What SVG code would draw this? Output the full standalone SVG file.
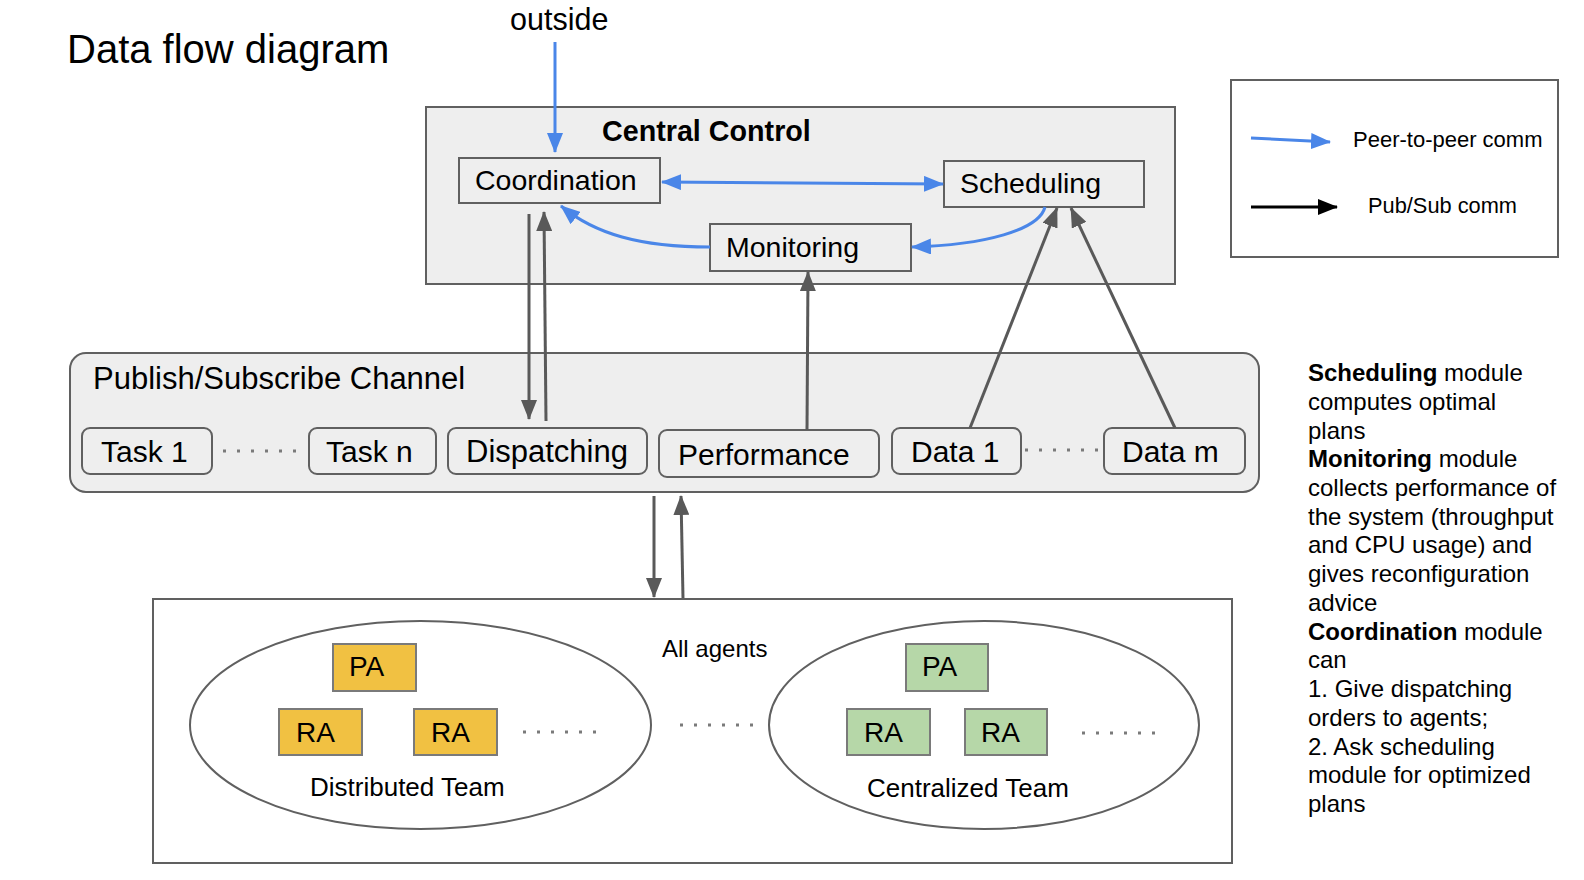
<svg xmlns="http://www.w3.org/2000/svg" width="1584" height="880" viewBox="0 0 1584 880">
<style>
text{font-family:"Liberation Sans",Arial,sans-serif;fill:#000}
.box{fill:#eeeeee;stroke:#606060;stroke-width:2}
.wbox{fill:#ffffff;stroke:#606060;stroke-width:2}
.lbl{font-size:28.5px}
.ps{font-size:30px}
.ag{font-size:28px}
.org{fill:#f1c142;stroke:#7a7a7a;stroke-width:2}
.grn{fill:#b6d7a8;stroke:#7a7a7a;stroke-width:2}
.blue{fill:none;stroke:#4a86e8;stroke-width:3}
.gray{fill:none;stroke:#595959;stroke-width:3}
.dots{fill:none;stroke:#7a7a7a;stroke-width:3;stroke-dasharray:3 11}
.side{font-size:24px}
</style>
<defs>
<marker id="ab" markerUnits="userSpaceOnUse" markerWidth="20" markerHeight="16" refX="19" refY="8" orient="auto-start-reverse"><path d="M0,0 L20,8 L0,16 z" fill="#4a86e8"/></marker>
<marker id="ag" markerUnits="userSpaceOnUse" markerWidth="20" markerHeight="16" refX="19" refY="8" orient="auto"><path d="M0,0 L20,8 L0,16 z" fill="#595959"/></marker>
<marker id="ak" markerUnits="userSpaceOnUse" markerWidth="20" markerHeight="16" refX="19" refY="8" orient="auto"><path d="M0,0 L20,8 L0,16 z" fill="#000"/></marker>
</defs>

<text x="67" y="63" font-size="40">Data flow diagram</text>
<text x="510" y="30" font-size="30.5">outside</text>

<g id="central-control">
<rect class="box" x="426" y="107" width="749" height="177"/>
<text x="602" y="141" font-size="28.7" font-weight="bold">Central Control</text>
</g>
<g id="coordination">
<rect class="box" x="459" y="158" width="201" height="45"/>
<text class="lbl" x="475" y="190">Coordination</text>
</g>
<g id="scheduling">
<rect class="box" x="944" y="161" width="200" height="46"/>
<text class="lbl" x="960" y="193">Scheduling</text>
</g>
<g id="monitoring">
<rect class="box" x="710" y="224" width="201" height="47"/>
<text class="lbl" x="726" y="257">Monitoring</text>
</g>

<g id="pubsub">
<rect class="box" x="70" y="353" width="1189" height="139" rx="16"/>
<text x="93" y="389" font-size="31">Publish/Subscribe Channel</text>
</g>
<g id="task1"><rect class="box" x="82" y="428" width="130" height="46" rx="8"/><text class="ps" x="101" y="462">Task 1</text></g>
<g id="taskn"><rect class="box" x="309" y="428" width="127" height="46" rx="8"/><text class="ps" x="326" y="462">Task n</text></g>
<g id="dispatching"><rect class="box" x="448" y="428" width="199" height="46" rx="8"/><text x="466" y="462" font-size="31">Dispatching</text></g>
<g id="performance"><rect class="box" x="659" y="430" width="220" height="47" rx="8"/><text class="ps" x="678" y="465">Performance</text></g>
<g id="data1"><rect class="box" x="892" y="428" width="129" height="46" rx="8"/><text class="ps" x="911" y="462">Data 1</text></g>
<g id="datam"><rect class="box" x="1104" y="428" width="141" height="46" rx="8"/><text class="ps" x="1122" y="462">Data m</text></g>
<line class="dots" x1="223" y1="451" x2="296" y2="451"/>
<line class="dots" x1="1025" y1="450" x2="1098" y2="450"/>

<g id="all-agents">
<rect class="wbox" x="153" y="599" width="1079" height="264"/>
<text x="662" y="657" font-size="24">All agents</text>
<line class="dots" x1="680" y1="725" x2="753" y2="725"/>
</g>
<g id="distributed-team">
<ellipse fill="none" stroke="#606060" stroke-width="2" cx="420.5" cy="725" rx="230.5" ry="104"/>
<rect class="org" x="333" y="644" width="83" height="47"/><text class="ag" x="349" y="676">PA</text>
<rect class="org" x="279" y="709" width="83" height="46"/><text class="ag" x="296" y="742">RA</text>
<rect class="org" x="414" y="709" width="83" height="46"/><text class="ag" x="431" y="742">RA</text>
<line class="dots" x1="523" y1="732" x2="596" y2="732"/>
<text x="310" y="796" font-size="26">Distributed Team</text>
</g>
<g id="centralized-team">
<ellipse fill="none" stroke="#606060" stroke-width="2" cx="984" cy="725" rx="215" ry="104"/>
<rect class="grn" x="906" y="644" width="82" height="47"/><text class="ag" x="922" y="676">PA</text>
<rect class="grn" x="847" y="709" width="83" height="46"/><text class="ag" x="864" y="742">RA</text>
<rect class="grn" x="965" y="709" width="82" height="46"/><text class="ag" x="981" y="742">RA</text>
<line class="dots" x1="1082" y1="733" x2="1155" y2="733"/>
<text x="867" y="797" font-size="26">Centralized Team</text>
</g>

<g id="legend">
<rect class="wbox" x="1231" y="80" width="327" height="177"/>
<path class="blue" d="M1251,138 L1330,142" marker-end="url(#ab)"/>
<text x="1353" y="147" font-size="22">Peer-to-peer comm</text>
<path d="M1251,207 L1337,207" fill="none" stroke="#000" stroke-width="3" marker-end="url(#ak)"/>
<text x="1368" y="213" font-size="21.8">Pub/Sub comm</text>
</g>

<g id="notes" class="side">
<text x="1308" y="381"><tspan font-weight="bold">Scheduling</tspan> module</text>
<text x="1308" y="409.7">computes optimal</text>
<text x="1308" y="438.5">plans</text>
<text x="1308" y="467.2"><tspan font-weight="bold">Monitoring</tspan> module</text>
<text x="1308" y="495.9">collects performance of</text>
<text x="1308" y="524.7">the system (throughput</text>
<text x="1308" y="553.4">and CPU usage) and</text>
<text x="1308" y="582.1">gives reconfiguration</text>
<text x="1308" y="610.8">advice</text>
<text x="1308" y="639.6"><tspan font-weight="bold">Coordination</tspan> module</text>
<text x="1308" y="668.3">can</text>
<text x="1308" y="697">1. Give dispatching</text>
<text x="1308" y="725.8">orders to agents;</text>
<text x="1308" y="754.5">2. Ask scheduling</text>
<text x="1308" y="783.2">module for optimized</text>
<text x="1308" y="812">plans</text>
</g>

<g id="connectors">
<path class="blue" d="M555,42 L555,152" marker-end="url(#ab)"/>
<path class="blue" d="M662,182 L943,184" marker-start="url(#ab)" marker-end="url(#ab)"/>
<path class="blue" d="M710,247 C640,247 595,234 561,206" marker-end="url(#ab)"/>
<path class="blue" d="M1045,207 C1039,230 985,245 912,247" marker-end="url(#ab)"/>
<path class="gray" d="M529,214 L529,419" marker-end="url(#ag)"/>
<path class="gray" d="M546,421 L544,212" marker-end="url(#ag)"/>
<path class="gray" d="M807,430 L808,272" marker-end="url(#ag)"/>
<path class="gray" d="M970,428 L1057,208" marker-end="url(#ag)"/>
<path class="gray" d="M1175,428 L1071,208" marker-end="url(#ag)"/>
<path class="gray" d="M654,496 L654,597" marker-end="url(#ag)"/>
<path class="gray" d="M683,598 L681,496" marker-end="url(#ag)"/>
</g>
</svg>
